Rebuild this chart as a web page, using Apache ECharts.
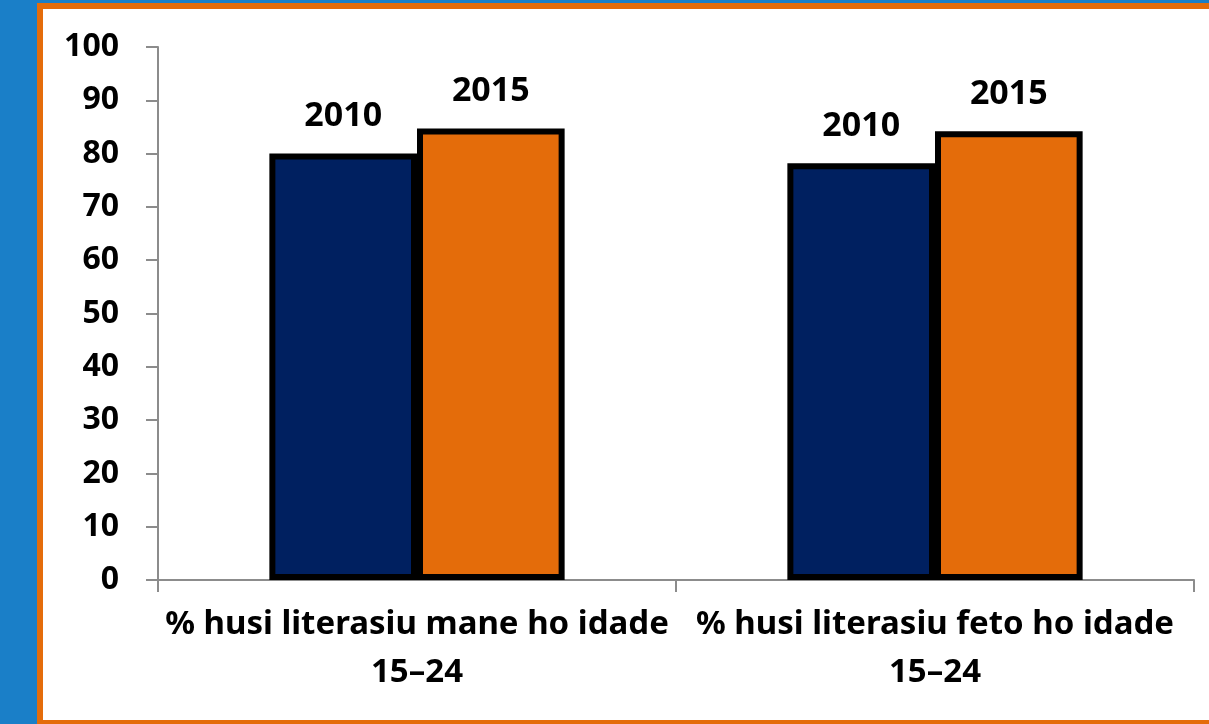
<!DOCTYPE html>
<html>
<head>
<meta charset="utf-8">
<script src="https://cdn.jsdelivr.net/npm/echarts@6/dist/echarts.min.js"></script>
<style>
  html, body { margin: 0; padding: 0; width: 1209px; height: 724px; overflow: hidden; background: #1a7fc8; }
  #frame { position: absolute; left: 37px; top: 3px; width: 1200px; height: 723px; box-sizing: border-box;
           border: 6px solid #e46c0a; background: #ffffff; }
  #chart { position: absolute; left: 0; top: 0; width: 1209px; height: 724px; }
</style>
</head>
<body>
<div id="frame"></div>
<div id="chart"></div>
<script>
const categories = ['% husi literasiu mane ho idade\n15\u201324', '% husi literasiu feto ho idade\n15\u201324'];
const seriesNames = ['2010', '2015'];
const values2010 = [80.0, 78.2];
const values2015 = [84.7, 84.2];
const yTicks = [0, 10, 20, 30, 40, 50, 60, 70, 80, 90, 100];

const FONT = 'Noto Sans';
const chart = echarts.init(document.getElementById('chart'), null, { renderer: 'canvas' });

function barSeries(name, data, color) {
  return {
    name: name,
    type: 'bar',
    data: data,
    barGap: '0%',
    barCategoryGap: '43%',
    itemStyle: { color: color, borderColor: '#000000', borderWidth: 6 },
    label: {
      show: true,
      position: 'top',
      distance: 20,
      formatter: '{a}',
      color: '#000000',
      fontFamily: FONT,
      fontWeight: 'bold',
      fontSize: 34
    },
    emphasis: { disabled: true }
  };
}

chart.setOption({
  backgroundColor: 'transparent',
  animation: false,
  grid: { left: 158, right: 15, top: 47, bottom: 144, containLabel: false },
  xAxis: {
    type: 'category',
    data: categories,
    axisLine: { show: true, lineStyle: { color: '#8c8c8c', width: 2 } },
    axisTick: { show: true, length: 12, alignWithLabel: false, lineStyle: { color: '#8c8c8c', width: 2 } },
    axisLabel: {
      color: '#000000', fontFamily: FONT, fontWeight: 'bold', fontSize: 33,
      lineHeight: 48, margin: 21, interval: 0
    },
    splitLine: { show: false }
  },
  yAxis: {
    type: 'value',
    min: yTicks[0],
    max: yTicks[yTicks.length - 1],
    interval: 10,
    axisLine: { show: true, lineStyle: { color: '#8c8c8c', width: 2 } },
    axisTick: { show: true, length: 12, lineStyle: { color: '#8c8c8c', width: 2 } },
    axisLabel: { color: '#000000', fontFamily: FONT, fontWeight: 'bold', fontSize: 32, margin: 39 },
    splitLine: { show: false }
  },
  series: [
    barSeries(seriesNames[0], values2010, '#002060'),
    barSeries(seriesNames[1], values2015, '#e46c0a')
  ]
});
</script>
</body>
</html>
